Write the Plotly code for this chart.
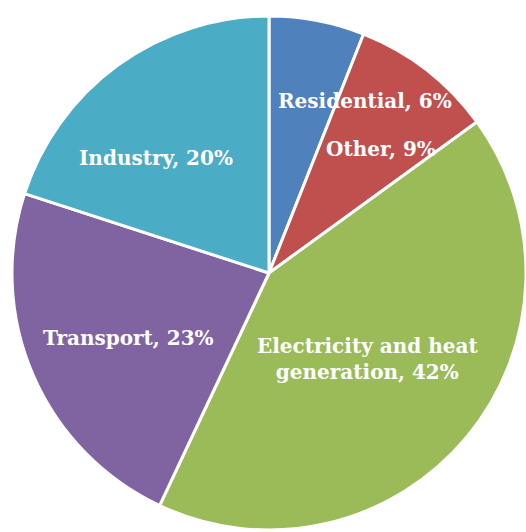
import plotly.graph_objects as go

# Data
categories = ["Residential", "Other", "Electricity and heat generation", "Transport", "Industry"]
values = [6, 9, 42, 23, 20]
colors = ["#4F81BD", "#C0504D", "#9BBB59", "#8064A2", "#4BACC6"]
label_names = ["Residential", "Other", "Electricity and heat<br>generation", "Transport", "Industry"]

# Label placement (pixel coordinates in the 526x532 canvas)
W, H = 526, 532
label_px = [(365, 101), (381, 149), (367, 359), (128, 338), (156, 158)]

fig = go.Figure(go.Pie(
    labels=categories,
    values=values,
    sort=False,
    direction="clockwise",
    rotation=0,
    marker=dict(colors=colors, line=dict(color="white", width=3)),
    textinfo="none",
    hoverinfo="label+percent",
    domain=dict(x=[12 / W, 1], y=[0, 1 - 14 / H]),
    showlegend=False,
))

for name, v, (px, py) in zip(label_names, values, label_px):
    fig.add_annotation(
        x=px / W, y=1 - py / H, xref="paper", yref="paper",
        text=f"{name}, {v}%", showarrow=False,
        font=dict(family="DejaVu Serif", size=20, color="white", weight="bold"),
        align="center", xanchor="center", yanchor="middle",
    )

fig.update_layout(
    width=W, height=H,
    margin=dict(l=0, r=0, t=0, b=0),
    paper_bgcolor="white", plot_bgcolor="white",
)

fig.write_html("out.html")
